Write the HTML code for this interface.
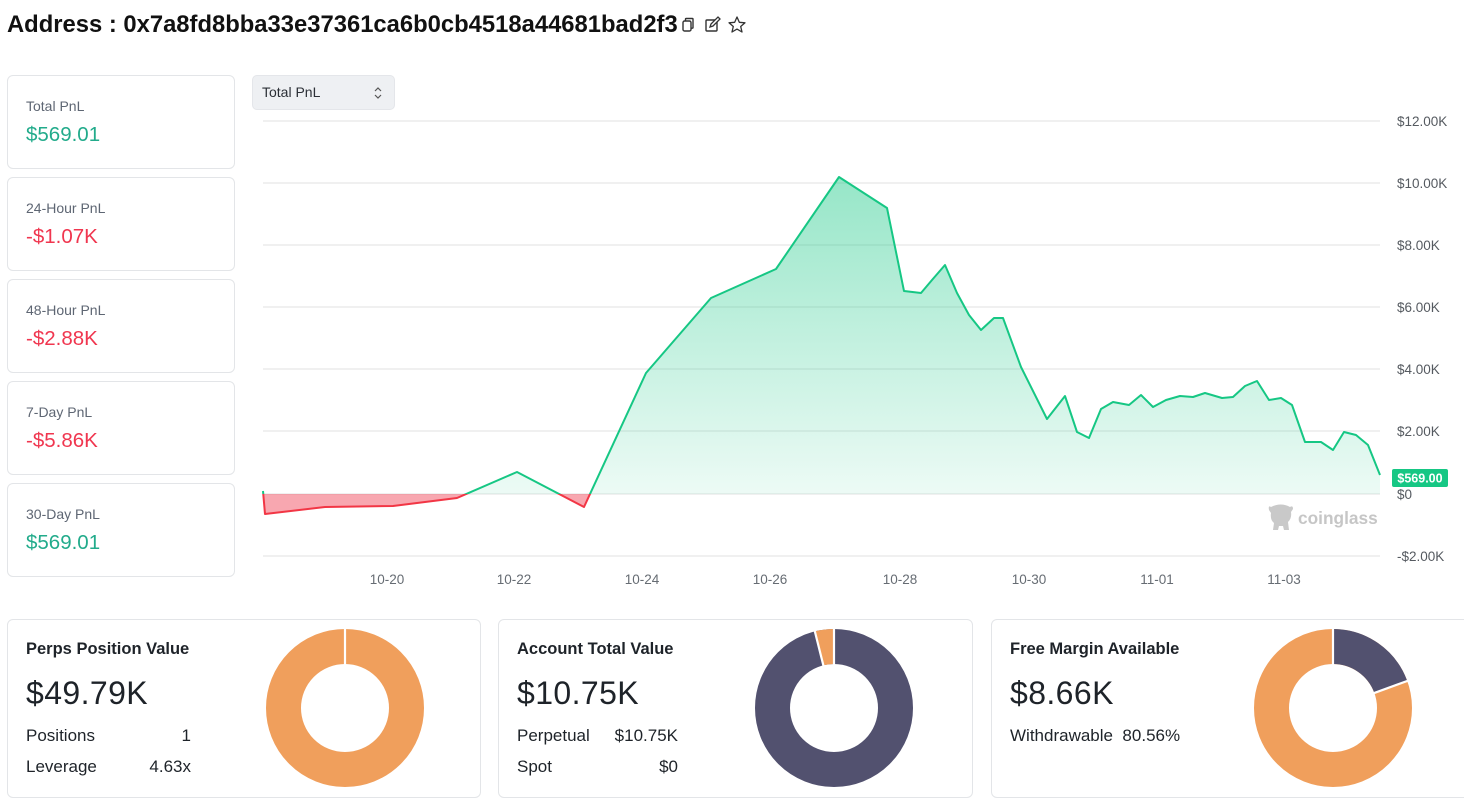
<!DOCTYPE html>
<html><head><meta charset="utf-8"><style>
*{margin:0;padding:0;box-sizing:border-box}
body{width:1464px;height:798px;background:#fff;position:relative;overflow:hidden;font-family:"Liberation Sans",sans-serif;color:#1e2329}
.a{position:absolute;white-space:nowrap}
.card{position:absolute;border:1px solid #e3e5e8;border-radius:6px;background:#fff}
.lbl{position:absolute;left:18px;font-size:14px;color:#5e6673}
.val{position:absolute;left:18px;font-size:20.5px}
.g{color:#22ab8b}.r{color:#f0364f}
.bt{position:absolute;left:18px;top:20px;font-size:16.5px;font-weight:bold;color:#1e2329}
.bv{position:absolute;left:18px;top:55px;font-size:32px;letter-spacing:0.4px;color:#1e2329}
.row{position:absolute;left:18px;font-size:17px;color:#1e2329}
.rv{position:absolute;font-size:17px;color:#1e2329;text-align:right}
.yl{position:absolute;left:1397px;font-size:13.5px;color:#555a60}
.xl{position:absolute;font-size:13.5px;color:#666c73;width:60px;text-align:center}
</style></head><body>

<div class="a" style="left:7px;top:11px;font-size:23.8px;font-weight:bold;color:#111;letter-spacing:0px">Address : 0x7a8fd8bba33e37361ca6b0cb4518a44681bad2f3</div>
<svg class="a" style="left:678px;top:14px" width="72" height="24" viewBox="0 0 72 24">
  <rect x="5" y="7" width="8" height="10" rx="1.5" fill="none" stroke="#333" stroke-width="1.4"/>
  <path d="M7.5 7 V5.2 Q7.5 4.5 8.2 4.5 H14.3 Q15 4.5 15 5.2 V13.5 Q15 14.2 14.3 14.2 H13" fill="none" stroke="#333" stroke-width="1.4"/>
  <rect x="28" y="6" width="11" height="11" rx="1" fill="none" stroke="#333" stroke-width="1.4"/>
  <path d="M32 13 L33 10 L40 3 L42 5 L35 12 Z" fill="#fff" stroke="#333" stroke-width="1.3"/>
  <path d="M59 3 L61.3 8.3 L67 8.8 L62.7 12.5 L64 18 L59 15.1 L54 18 L55.3 12.5 L51 8.8 L56.7 8.3 Z" fill="none" stroke="#333" stroke-width="1.3" stroke-linejoin="round"/>
</svg>

<!-- left cards -->
<div class="card" style="left:7px;top:75px;width:228px;height:94px"><div class="lbl" style="top:22px">Total PnL</div><div class="val g" style="top:47px">$569.01</div></div>
<div class="card" style="left:7px;top:177px;width:228px;height:94px"><div class="lbl" style="top:22px">24-Hour PnL</div><div class="val r" style="top:47px">-$1.07K</div></div>
<div class="card" style="left:7px;top:279px;width:228px;height:94px"><div class="lbl" style="top:22px">48-Hour PnL</div><div class="val r" style="top:47px">-$2.88K</div></div>
<div class="card" style="left:7px;top:381px;width:228px;height:94px"><div class="lbl" style="top:22px">7-Day PnL</div><div class="val r" style="top:47px">-$5.86K</div></div>
<div class="card" style="left:7px;top:483px;width:228px;height:94px"><div class="lbl" style="top:22px">30-Day PnL</div><div class="val g" style="top:47px">$569.01</div></div>

<!-- select -->
<div class="a" style="left:252px;top:75px;width:143px;height:35px;background:#eef0f3;border-radius:5px;border:1px solid #e4e6ea"></div>
<div class="a" style="left:262px;top:84px;font-size:14px;color:#2b2f36">Total PnL</div>
<svg class="a" style="left:372px;top:84px" width="12" height="18" viewBox="0 0 12 18"><path d="M3 7 L6 4 L9 7 M3 11 L6 14 L9 11" fill="none" stroke="#555" stroke-width="1.2"/></svg>

<!-- chart -->
<svg class="a" style="left:0;top:0" width="1464" height="600" viewBox="0 0 1464 600">
  <defs>
    <linearGradient id="gg" gradientUnits="userSpaceOnUse" x1="0" y1="177" x2="0" y2="494">
      <stop offset="0" stop-color="#16c784" stop-opacity="0.45"/>
      <stop offset="1" stop-color="#16c784" stop-opacity="0.08"/>
    </linearGradient>
    <clipPath id="above"><rect x="0" y="0" width="1464" height="494"/></clipPath>
    <clipPath id="below"><rect x="0" y="494" width="1464" height="200"/></clipPath>
  </defs>
  <g stroke="#e8e8e8" stroke-width="1.3">
    <line x1="263" y1="121" x2="1380" y2="121"/>
    <line x1="263" y1="183" x2="1380" y2="183"/>
    <line x1="263" y1="245" x2="1380" y2="245"/>
    <line x1="263" y1="307" x2="1380" y2="307"/>
    <line x1="263" y1="369" x2="1380" y2="369"/>
    <line x1="263" y1="431" x2="1380" y2="431"/>
    <line x1="263" y1="494" x2="1380" y2="494"/>
    <line x1="263" y1="556" x2="1380" y2="556"/>
  </g>
  <g id="wm" fill="#c9c9c9">
    <path d="M1271 507 Q1268 505 1269 510 L1271 513 Q1270 520 1274 523 L1273 530 L1278 530 L1279 526 L1283 526 L1284 530 L1289 530 L1288 522 Q1292 518 1291 512 L1293 509 Q1293 505 1290 507 Q1281 502 1271 507 Z"/>
    <text x="1298" y="524" font-family="Liberation Sans, sans-serif" font-size="17.3" font-weight="bold" fill="#c6c6c6">coinglass</text>
  </g>
  <polygon clip-path="url(#above)" fill="url(#gg)" points="263,494 263,491 265,514 325,507 393,506 457,498 517,472 584,507 646,373 711,298 776,269 839,177 887,208 904,291 921,293 932,280 945,265 957,293 969,315 981,330 994,318 1003,318 1021,367 1047,419 1065,396 1077,432 1089,438 1101,409 1113,402 1129,405 1141,395 1153,407 1166,400 1180,396 1193,397 1205,393 1222,398 1233,397 1245,386 1257,381 1269,400 1281,398 1292,405 1305,442 1321,442 1333,450 1344,432 1356,435 1368,445 1380,475 1380,494"/>
  <polygon clip-path="url(#below)" fill="#f03c50" fill-opacity="0.45" points="263,494 263,491 265,514 325,507 393,506 457,498 517,472 584,507 646,373 711,298 776,269 839,177 887,208 904,291 921,293 932,280 945,265 957,293 969,315 981,330 994,318 1003,318 1021,367 1047,419 1065,396 1077,432 1089,438 1101,409 1113,402 1129,405 1141,395 1153,407 1166,400 1180,396 1193,397 1205,393 1222,398 1233,397 1245,386 1257,381 1269,400 1281,398 1292,405 1305,442 1321,442 1333,450 1344,432 1356,435 1368,445 1380,475 1380,494"/>
  <polyline clip-path="url(#above)" fill="none" stroke="#16c784" stroke-width="2" stroke-linejoin="round" points="263,491 265,514 325,507 393,506 457,498 517,472 584,507 646,373 711,298 776,269 839,177 887,208 904,291 921,293 932,280 945,265 957,293 969,315 981,330 994,318 1003,318 1021,367 1047,419 1065,396 1077,432 1089,438 1101,409 1113,402 1129,405 1141,395 1153,407 1166,400 1180,396 1193,397 1205,393 1222,398 1233,397 1245,386 1257,381 1269,400 1281,398 1292,405 1305,442 1321,442 1333,450 1344,432 1356,435 1368,445 1380,475"/>
  <polyline clip-path="url(#below)" fill="none" stroke="#f23645" stroke-width="2" stroke-linejoin="round" points="263,491 265,514 325,507 393,506 457,498 517,472 584,507 646,373"/>
  <rect x="1392" y="469" width="56" height="18" rx="2" fill="#16c784"/>
  <text x="1420" y="482.5" text-anchor="middle" font-family="Liberation Sans, sans-serif" font-size="12.5" font-weight="bold" fill="#fff">$569.00</text>
</svg>

<div class="yl" style="top:114px">$12.00K</div>
<div class="yl" style="top:176px">$10.00K</div>
<div class="yl" style="top:238px">$8.00K</div>
<div class="yl" style="top:300px">$6.00K</div>
<div class="yl" style="top:362px">$4.00K</div>
<div class="yl" style="top:424px">$2.00K</div>
<div class="yl" style="top:487px">$0</div>
<div class="yl" style="top:549px">-$2.00K</div>

<div class="xl" style="left:357px;top:572px">10-20</div>
<div class="xl" style="left:484px;top:572px">10-22</div>
<div class="xl" style="left:612px;top:572px">10-24</div>
<div class="xl" style="left:740px;top:572px">10-26</div>
<div class="xl" style="left:870px;top:572px">10-28</div>
<div class="xl" style="left:999px;top:572px">10-30</div>
<div class="xl" style="left:1127px;top:572px">11-01</div>
<div class="xl" style="left:1254px;top:572px">11-03</div>

<!-- bottom cards -->
<div class="card" style="left:7px;top:619px;width:474px;height:179px">
  <div class="bt">Perps Position Value</div>
  <div class="bv">$49.79K</div>
  <div class="row" style="top:106px">Positions</div><div class="rv" style="top:106px;right:289px">1</div>
  <div class="row" style="top:137px">Leverage</div><div class="rv" style="top:137px;right:289px">4.63x</div>
</div>
<div class="card" style="left:498px;top:619px;width:475px;height:179px">
  <div class="bt">Account Total Value</div>
  <div class="bv">$10.75K</div>
  <div class="row" style="top:106px">Perpetual</div><div class="rv" style="top:106px;right:294px">$10.75K</div>
  <div class="row" style="top:137px">Spot</div><div class="rv" style="top:137px;right:294px">$0</div>
</div>
<div class="card" style="left:991px;top:619px;width:480px;height:179px">
  <div class="bt">Free Margin Available</div>
  <div class="bv">$8.66K</div>
  <div class="row" style="top:106px">Withdrawable&nbsp;&nbsp;80.56%</div>
</div>

<svg class="a" style="left:0;top:600px" width="1464" height="198" viewBox="0 600 1464 198">
  <circle cx="345" cy="708" r="61.5" fill="none" stroke="#f09f5c" stroke-width="35"/>
  <line x1="345" y1="665" x2="345" y2="627" stroke="#fff" stroke-width="2.2"/>
  <circle cx="834" cy="708" r="61.5" fill="none" stroke="#52516f" stroke-width="35"/>
  <circle cx="834" cy="708" r="61.5" fill="none" stroke="#f09f5c" stroke-width="35" stroke-dasharray="15 400" stroke-dashoffset="-371.4" transform="rotate(-90 834 708)"/>
  <line x1="834" y1="665" x2="834" y2="627" stroke="#fff" stroke-width="2.2"/>
  <line x1="823.6" y1="666.3" x2="814.6" y2="630.4" stroke="#fff" stroke-width="2.2"/>
  <circle cx="1333" cy="708" r="61.5" fill="none" stroke="#f09f5c" stroke-width="35"/>
  <circle cx="1333" cy="708" r="61.5" fill="none" stroke="#52516f" stroke-width="35" stroke-dasharray="75.1 400" stroke-dashoffset="0" transform="rotate(-90 1333 708)"/>
  <line x1="1333" y1="665" x2="1333" y2="627" stroke="#fff" stroke-width="2.2"/>
  <line x1="1373.4" y1="693.3" x2="1408.2" y2="680.6" stroke="#fff" stroke-width="2.2"/>
</svg>

</body></html>
